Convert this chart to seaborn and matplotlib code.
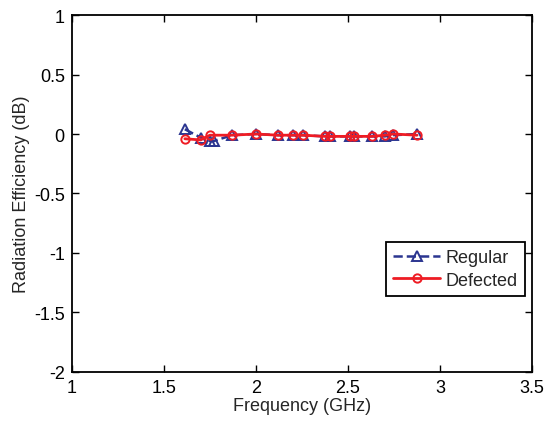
import pandas as pd
import matplotlib
matplotlib.use('Agg')
import matplotlib.pyplot as plt
import seaborn as sns

# values
freq = [1.614, 1.70, 1.75, 1.77, 1.87, 2.0, 2.12, 2.20, 2.255, 2.375, 2.40, 2.51, 2.53, 2.63, 2.70, 2.745, 2.875]
regular = [0.04, -0.03, -0.06, -0.06, -0.01, 0.0, -0.01, -0.01, -0.01, -0.02, -0.02, -0.02, -0.02, -0.02, -0.02, -0.01, 0.0]
freq_def = [1.614, 1.70, 1.75, 1.87, 2.0, 2.12, 2.20, 2.255, 2.375, 2.40, 2.51, 2.53, 2.63, 2.70, 2.745, 2.875]
defected = [-0.04, -0.05, -0.01, -0.01, 0.0, -0.01, -0.01, -0.01, -0.02, -0.02, -0.02, -0.02, -0.02, -0.01, 0.0, -0.01]

x_ticks = [1, 1.5, 2, 2.5, 3, 3.5]
y_ticks = [-2, -1.5, -1, -0.5, 0, 0.5, 1]

df = pd.concat([
    pd.DataFrame({'freq': freq, 'eff': regular, 'type': 'Regular'}),
    pd.DataFrame({'freq': freq_def, 'eff': defected, 'type': 'Defected'}),
])

sns.set_theme(style='white')
plt.rcParams['font.family'] = ['Liberation Sans', 'DejaVu Sans']

fig = plt.figure(figsize=(5.48, 4.27), dpi=100)
ax = fig.add_axes([0.131, 0.1265, 0.84, 0.836])

blue = '#2b3590'
red = '#ee1c24'
sns.lineplot(data=df[df['type'] == 'Regular'], x='freq', y='eff', ax=ax, color=blue,
             linestyle='--', marker='^', markersize=7, markerfacecolor='none',
             markeredgecolor=blue, markeredgewidth=1.4, linewidth=1.8, label='Regular',
             sort=False, estimator=None)
sns.lineplot(data=df[df['type'] == 'Defected'], x='freq', y='eff', ax=ax, color=red,
             linestyle='-', marker='o', markersize=6, markerfacecolor='none',
             markeredgecolor=red, markeredgewidth=1.4, linewidth=2.0, label='Defected',
             sort=False, estimator=None)

ax.set_xlim(1, 3.5)
ax.set_ylim(-2, 1)
ax.set_xticks(x_ticks)
ax.set_xticklabels(['1', '1.5', '2', '2.5', '3', '3.5'])
ax.set_yticks(y_ticks)
ax.set_yticklabels(['-2', '-1.5', '-1', '-0.5', '0', '0.5', '1'])
ax.tick_params(direction='in', length=5, width=1, top=True, right=True,
               bottom=True, left=True, labelsize=13, colors='black', pad=5)
for s in ax.spines.values():
    s.set_color('black')
    s.set_linewidth(1.3)
ax.set_xlabel('Frequency (GHz)', fontsize=13, labelpad=1)
ax.set_ylabel('Radiation Efficiency (dB)', fontsize=13, labelpad=3)

leg = ax.legend(loc='lower right', bbox_to_anchor=(0.985, 0.213), fontsize=13,
                frameon=True, fancybox=False, framealpha=1, edgecolor='black',
                handlelength=2.6, borderpad=0.4, labelspacing=0.3, handletextpad=0.3,
                borderaxespad=0)
leg.get_frame().set_linewidth(1.3)

fig.savefig('out.png', dpi=100)
